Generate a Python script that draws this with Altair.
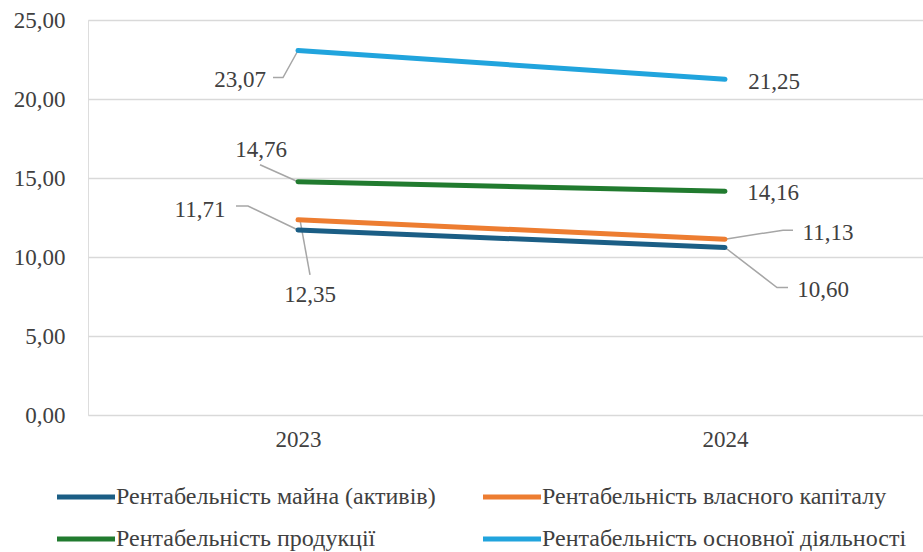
import altair as alt
import pandas as pd

# ---- data ----
years = [2023, 2024]
series_names = [
    "Рентабельність майна (активів)",
    "Рентабельність власного капіталу",
    "Рентабельність продукції",
    "Рентабельність основної діяльності",
]
assets = [11.71, 10.60]
equity = [12.35, 11.13]
products = [14.76, 14.16]
operations = [23.07, 21.25]
y_ticks = [0, 5, 10, 15, 20, 25]

# ---- style / layout ----
colors = ["#1B5E85", "#ED7D31", "#217B2F", "#21A4DD"]
FONT = "Liberation Serif"
TEXT_COLOR = "#404040"
NUM_SIZE = 23
LEG_SIZE = 24
PLOT_W, PLOT_H = 835, 395
PX_PER_YEAR = 427.0
X0 = 2023 - 210 / PX_PER_YEAR
X1 = X0 + PLOT_W / PX_PER_YEAR
Y_MAX = 25
PX_PER_UNIT = PLOT_H / Y_MAX

# label placement (pixel offsets from the data point): text centre and leader path
label_layout = {
    (3, 2023): ((-58, 30), [(0, 0), (-15, 27), (-25, 27)]),
    (3, 2024): ((49, 3), []),
    (2, 2023): ((-37, -32), [(0, 0), (-38, -17)]),
    (2, 2024): ((48, 2), []),
    (0, 2023): ((-98, -20), [(0, 0), (-50, -24), (-62, -24)]),
    (1, 2023): ((12, 75), [(2, 0), (12, 55)]),
    (1, 2024): ((103, -6), [(0, 0), (58, -9), (68, -9)]),
    (0, 2024): ((98, 42), [(0, 0), (52, 40), (63, 40)]),
}

all_series = [assets, equity, products, operations]
rows, labels, leaders = [], [], []
for si, (name, vals) in enumerate(zip(series_names, all_series)):
    for yr, v in zip(years, vals):
        rows.append({"series": name, "year": yr, "value": v})
        (tdx, tdy), path = label_layout[(si, yr)]
        labels.append({
            "lx": yr + tdx / PX_PER_YEAR,
            "ly": v - tdy / PX_PER_UNIT,
            "label": f"{v:.2f}".replace(".", ","),
        })
        for k, (pdx, pdy) in enumerate(path):
            leaders.append({
                "key": f"{si}-{yr}",
                "seq": k,
                "px": yr + pdx / PX_PER_YEAR,
                "py": v - pdy / PX_PER_UNIT,
            })

df = pd.DataFrame(rows)
df_lab = pd.DataFrame(labels)
df_lead = pd.DataFrame(leaders)

xscale = alt.Scale(domain=[X0, X1], nice=False, zero=False)
yscale = alt.Scale(domain=[0, Y_MAX], nice=False)

lines = alt.Chart(df).mark_line(strokeWidth=5, strokeCap="round").encode(
    x=alt.X("year:Q", scale=xscale, title=None,
            axis=alt.Axis(values=years, format="d", grid=False, ticks=False,
                          domain=False, labelFont=FONT, labelFontSize=NUM_SIZE,
                          labelColor=TEXT_COLOR, labelPadding=13)),
    y=alt.Y("value:Q", scale=yscale, title=None,
            axis=alt.Axis(values=y_ticks, grid=True, gridColor="#D9D9D9",
                          gridWidth=1.5, ticks=False, domain=False,
                          labelExpr="replace(format(datum.value, '.2f'), '.', ',')",
                          labelFont=FONT, labelFontSize=NUM_SIZE, labelColor=TEXT_COLOR,
                          labelPadding=23)),
    color=alt.Color("series:N", scale=alt.Scale(domain=series_names, range=colors),
                    sort=series_names,
                    legend=alt.Legend(title=None, orient="none", legendX=-14,
                                      legendY=465, columns=2, direction="horizontal",
                                      symbolType="M-5.8,0H5.8",
                                      symbolSize=100, symbolStrokeWidth=5,
                                      labelFontSize=LEG_SIZE, labelFont=FONT,
                                      labelColor=TEXT_COLOR, columnPadding=37,
                                      rowPadding=18, labelLimit=500, labelOffset=18)),
    detail="series:N",
)

lead = alt.Chart(df_lead).mark_line(strokeWidth=1.5, color="#A6A6A6").encode(
    x=alt.X("px:Q", scale=xscale),
    y=alt.Y("py:Q", scale=yscale),
    detail="key:N",
    order="seq:Q",
)

text = alt.Chart(df_lab).mark_text(font=FONT, fontSize=NUM_SIZE, color=TEXT_COLOR,
                                   align="center", baseline="middle").encode(
    x=alt.X("lx:Q", scale=xscale),
    y=alt.Y("ly:Q", scale=yscale),
    text="label:N",
)

chart = alt.layer(lead, lines, text).properties(
    width=PLOT_W, height=PLOT_H,
    autosize=alt.AutoSizeParams(type="none"),
    padding={"left": 88, "top": 20, "right": 0, "bottom": 137},
).configure_view(stroke=None).configure(background="white")

chart.save("out.html", embed_options={"renderer": "svg", "actions": False})
